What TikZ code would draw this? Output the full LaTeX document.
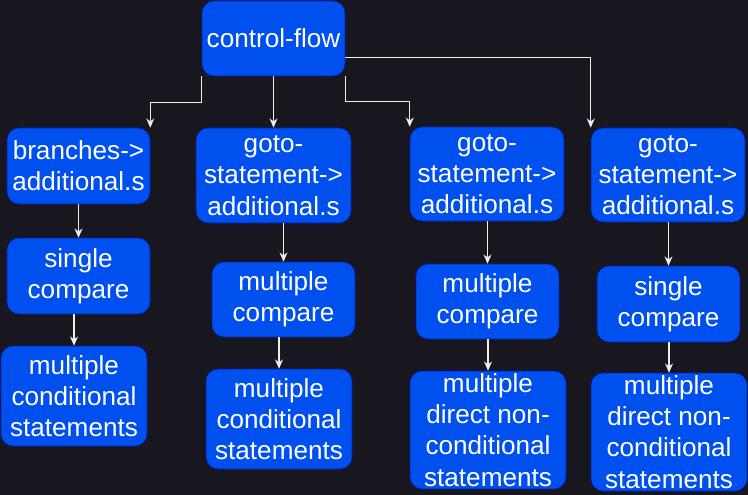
\documentclass[tikz,border=0pt]{standalone}
\usepackage{fontspec}
\setmainfont{Liberation Sans}
\usetikzlibrary{arrows.meta}
\definecolor{bgdark}{HTML}{18161E}
\definecolor{boxblue}{HTML}{0050EF}
\definecolor{boxedge}{HTML}{001DBC}
\definecolor{linegray}{HTML}{EEEEEE}

\begin{document}
\begin{tikzpicture}[x=0.75pt,y=-0.75pt,
      box/.style={draw=boxedge,fill=boxblue,rounded corners=9pt,text=white,
        align=center,inner sep=0pt,font=\fontsize{19.6}{23.4}\selectfont},
      sz/.style 2 args={minimum width=#1*0.75pt,minimum height=#2*0.75pt},
      conn/.style={draw=linegray,line width=0.8pt,-{Stealth[length=7pt,width=6pt]}}]
    \fill[bgdark] (0,0) rectangle (748,495);
    \useasboundingbox (0,0) rectangle (748,495);
    % root
    \node (root) [box,sz={143}{75}] at (273.5,38.5) {control-flow};
    % column 1
    \node (br)  [box,sz={143}{76}]  at (78.5,166) {branches-\textgreater\\additional.s};
    \node (brA) [box,sz={143}{76}]  at (78.5,276) {single\\compare};
    \node (brB) [box,sz={146}{100}] at (74,396) {multiple\\conditional\\statements};
    % column 2
    \node (ga)  [box,sz={155}{95}]  at (273.5,175.5) {goto-\\statement-\textgreater\\additional.s};
    \node (gaA) [box,sz={143}{75}]  at (283.5,299.5) {multiple\\compare};
    \node (gaB) [box,sz={146}{100}] at (279,419) {multiple\\conditional\\statements};
    % column 3
    \node (gb)  [box,sz={154}{94}]  at (487,174) {goto-\\statement-\textgreater\\additional.s};
    \node (gbA) [box,sz={143}{75}]  at (487.5,301.5) {multiple\\compare};
    \node (gbB) [box,sz={156}{118}] at (488,430) {multiple\\direct non-\\conditional\\statements};
    % column 4
    \node (gc)  [box,sz={154}{94}]  at (668,175) {goto-\\statement-\textgreater\\additional.s};
    \node (gcA) [box,sz={143}{76}]  at (668.5,304) {single\\compare};
    \node (gcB) [box,sz={156}{118}] at (669,432) {multiple\\direct non-\\conditional\\statements};
    % from the root
    \draw[conn] (root.south west) -- ++(0,26) -| (br.north east);
    \draw[conn] (root.south) -- (ga.north);
    \draw[conn] (root.south east) -- ++(0,25) -| (gb.north west);
    \draw[conn] ([yshift=-14pt]root.east) -| (gc.north west);
    % down each column
    \foreach \up/\down in {br/brA,brA/brB,ga/gaA,gaA/gaB,gb/gbA,gbA/gbB,gc/gcA,gcA/gcB}
      \draw[conn] (\down.north |- \up.south) -- (\down.north);
\end{tikzpicture}
\end{document}
